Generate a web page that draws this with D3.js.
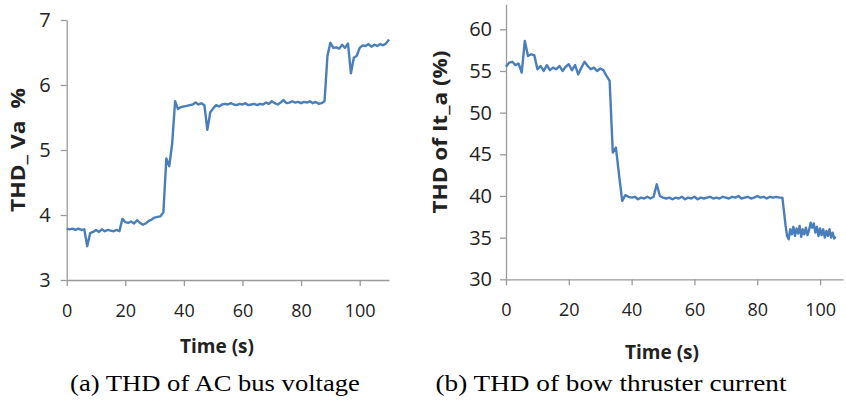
<!DOCTYPE html>
<html><head><meta charset="utf-8">
<script src="https://cdn.jsdelivr.net/npm/d3@7"></script>
<style>
body{margin:0;background:#fff;}
svg{display:block;}
</style></head>
<body><svg id="c" width="846" height="402"></svg>
<script>
// ---- data ----
const timeA = [0,1,2,3,4,5,6,7,8,9,10,11,12,13,14,15,16,17,18,19,20,21,22,23,24,25,26,27,28,29,30,31,32,33,34,35,36,37,38,39,40,41,42,43,44,45,46,47,48,49,50,51,52,53,54,55,56,57,58,59,60,61,62,63,64,65,66,67,68,69,70,71,72,73,74,75,76,77,78,79,80,81,82,83,84,85,86,87,88,89,90,91,92,93,94,95,96,97,98,99,100,101,102,103,104,105,106,107,108,109,110];
const thdVa = [3.79,3.78,3.79,3.77,3.79,3.77,3.78,3.52,3.72,3.74,3.77,3.74,3.78,3.75,3.77,3.76,3.75,3.77,3.75,3.94,3.89,3.88,3.90,3.87,3.92,3.88,3.85,3.87,3.91,3.93,3.96,3.97,3.98,4.04,4.87,4.75,5.10,5.75,5.63,5.66,5.67,5.68,5.69,5.70,5.73,5.70,5.72,5.69,5.31,5.58,5.64,5.69,5.67,5.70,5.71,5.70,5.72,5.70,5.69,5.71,5.70,5.72,5.69,5.70,5.71,5.69,5.71,5.70,5.73,5.71,5.75,5.72,5.70,5.73,5.77,5.72,5.73,5.75,5.73,5.74,5.72,5.74,5.73,5.75,5.72,5.74,5.71,5.72,5.75,6.45,6.65,6.57,6.58,6.56,6.62,6.57,6.64,6.18,6.42,6.45,6.57,6.61,6.60,6.63,6.59,6.62,6.60,6.63,6.61,6.64,6.70];

const timeB = [0,1,2,3,4,5,6,7,8,9,10,11,12,13,14,15,16,17,18,19,20,21,22,23,24,25,26,27,28,29,30,31,32,33,34,35,36,37,38,39,40,41,42,43,44,45,46,47,48,49,50,51,52,53,54,55,56,57,58,59,60,61,62,63,64,65,66,67,68,69,70,71,72,73,74,75,76,77,78,79,80,81,82,83,84,85,86,87,88,
  89,89.5,90,90.5,91,91.5,92,92.5,93,93.5,94,94.5,95,95.5,96,96.5,97,97.5,98,98.5,99,99.5,100,100.5,101,101.5,102,102.5,103,103.5,104,104.5,105];
const thdIt = [55.5,56.0,56.1,55.7,55.9,54.8,58.6,56.8,57.0,56.9,55.2,55.6,55.0,55.7,55.1,55.4,55.2,55.6,55.0,55.5,55.8,55.1,55.7,54.6,55.4,56.1,55.6,55.2,55.4,55.0,55.3,55.1,54.4,53.8,45.2,45.8,42.5,39.4,40.1,39.9,39.8,39.9,39.6,39.8,39.7,39.9,39.7,39.9,41.4,40.0,39.8,39.7,39.8,39.6,39.8,39.7,39.9,39.6,39.8,39.7,39.9,39.6,39.8,39.7,39.8,39.9,39.7,39.8,39.7,39.9,39.8,39.7,39.9,39.8,40.0,39.7,39.8,39.9,39.7,39.8,40.0,39.8,39.9,39.7,39.9,39.8,39.9,39.8,39.8,
  36.5,35.2,34.8,36.0,35.4,36.3,35.2,36.1,35.5,36.4,35.1,36.0,35.4,36.2,35.3,35.9,36.8,36.2,36.7,35.6,36.3,35.2,36.1,35.3,36.0,35.0,35.8,35.2,36.0,35.0,35.6,34.9,35.1];

const xTicks = [0,20,40,60,80,100];
const yTicksA = [3,4,5,6,7];
const yTicksB = [30,35,40,45,50,55,60];

const titleA = "THD_ Va  %";
const titleB = "THD of It_a (%)";
const xTitle = "Time (s)";
const captionA = "(a) THD of AC bus voltage";
const captionB = "(b) THD of bow thruster current";

// ---- drawing ----
const svg = d3.select("#c");
const LINE = "#4a7ebb", AXIS = "#9a9a9a", TXT = "#222";
const tickFont = "'Open Sans', sans-serif";

function panel(o){
  const x = d3.scaleLinear().domain(o.xDom).range(o.xRange);
  const y = d3.scaleLinear().domain(o.yDom).range(o.yRange);
  const g = svg.append("g");
  const ya = g.append("g").attr("transform",`translate(${o.xRange[0]},0)`)
    .call(d3.axisLeft(y).tickValues(o.yTicks).tickFormat(d3.format("d")).tickSize(6).tickSizeOuter(0).tickPadding(o.yPad));
  const xa = g.append("g").attr("transform",`translate(0,${o.yRange[0]})`)
    .call(d3.axisBottom(x).tickValues(xTicks).tickFormat(d3.format("d")).tickSize(6).tickSizeOuter(0).tickPadding(18));
  [ya,xa].forEach(a=>{
    a.select(".domain").attr("stroke",AXIS).attr("stroke-width",1.3);
    a.selectAll(".tick line").attr("stroke",AXIS).attr("stroke-width",1.3);
    a.selectAll("text").attr("fill",TXT).style("font-family",tickFont);
  });
  ya.selectAll("text").style("font-size","20px");
  xa.selectAll("text").style("font-size","18px");
  const data = o.t.map((t,i)=>[t,o.v[i]]);
  g.append("path").datum(data)
    .attr("fill","none").attr("stroke",LINE).attr("stroke-width",2.4)
    .attr("stroke-linejoin","round")
    .attr("d", d3.line().x(d=>x(d[0])).y(d=>y(d[1])));
  g.append("text").attr("transform",`translate(${o.yTitleX},${o.yTitleY}) rotate(-90)`)
    .attr("text-anchor","middle").attr("dominant-baseline","central")
    .style("font-family",tickFont).style("font-weight","bold").style("font-size","19px")
    .style("white-space","pre")
    .attr("textLength",o.yTitleLen).attr("lengthAdjust","spacingAndGlyphs")
    .attr("fill",TXT).text(o.yTitle);
  g.append("text").attr("x",o.xTitleX).attr("y",o.xTitleY)
    .attr("text-anchor","middle").attr("dominant-baseline","central")
    .style("font-family",tickFont).style("font-weight","bold").style("font-size","19px")
    .attr("textLength",74).attr("lengthAdjust","spacingAndGlyphs")
    .attr("fill",TXT).text(xTitle);
  const cap = g.append("text")
    .attr("text-anchor","middle")
    .style("font-family","'Liberation Serif','Times New Roman',serif").style("font-size","24px")
    .attr("fill","#000").text(o.caption);
  const w = cap.node().getComputedTextLength();
  cap.attr("transform",`translate(${o.capX},391) scale(${o.capLen / w},1)`);
}

panel({t:timeA,v:thdVa,xDom:[0,110],xRange:[66.7,389],yDom:[3,7],yRange:[280,20],yPad:10,
  yTicks:yTicksA,yTitle:titleA,yTitleX:18,yTitleY:150,yTitleLen:124,xTitleX:217,xTitleY:346,capX:215,capLen:290,caption:captionA});
panel({t:timeB,v:thdIt,xDom:[0,107.3],xRange:[506,843],yDom:[30,63],yRange:[279.3,4.3],yPad:8,
  yTicks:yTicksB,yTitle:titleB,yTitleX:440,yTitleY:132,yTitleLen:163,xTitleX:662,xTitleY:352,capX:611,capLen:351,caption:captionB});
</script>
</body></html>
